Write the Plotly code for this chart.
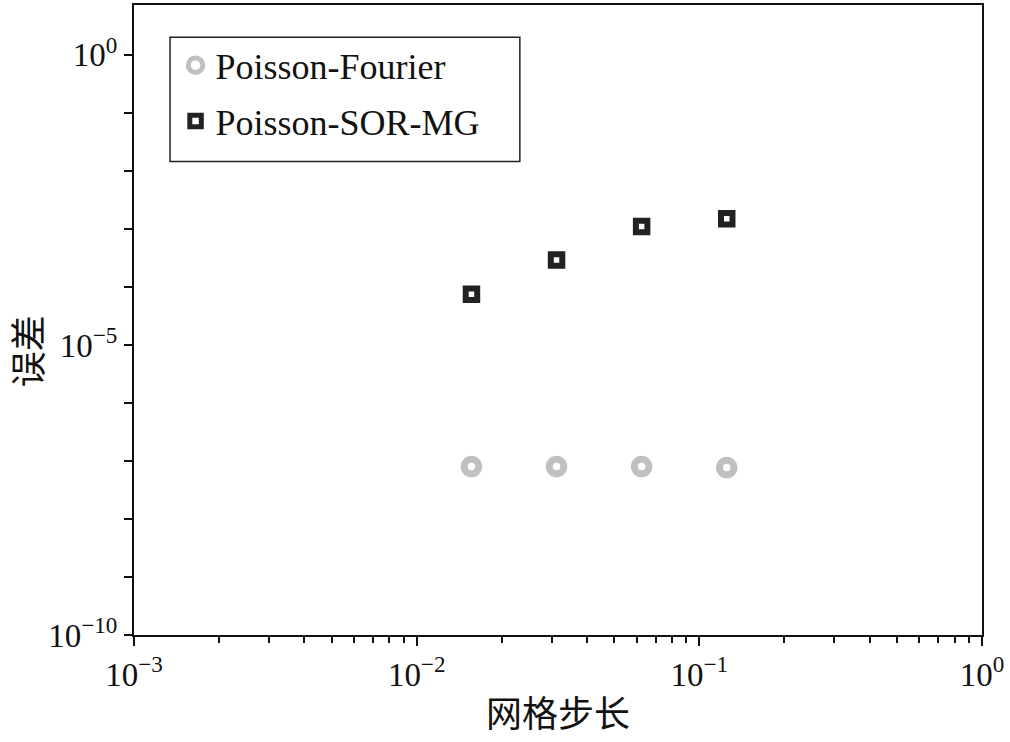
import plotly.graph_objects as go

h = [1/64, 1/32, 1/16, 1/8]
err_fourier = [8.0e-8, 8.0e-8, 8.0e-8, 7.7e-8]
err_sormg = [7.5e-5, 2.9e-4, 1.1e-3, 1.5e-3]
names = ["Poisson-Fourier", "Poisson-SOR-MG"]
x_title = "网格步长"
y_title = "误差"

fig = go.Figure()
fig.add_trace(go.Scatter(
    x=h, y=err_fourier, mode="markers", name=names[0], legendgroup="a",
    marker=dict(symbol="circle-open", size=14.5, color="#c0c0c0",
                line=dict(width=7, color="#c0c0c0")),
))
fig.add_trace(go.Scatter(
    x=h, y=err_sormg, mode="markers", name=names[1], legendgroup="b",
    marker=dict(symbol="square-open", size=11.5, color="#222222",
                line=dict(width=6, color="#222222")),
))

x_major = [10**e for e in range(-3, 1)]
x_minor = [m * 10**e for e in range(-3, 0) for m in range(2, 10)]
x_text = ["10<sup>−%d</sup>" % (-e) if e < 0 else "10<sup>0</sup>" for e in range(-3, 1)]
y_major = [1e-10, 1e-5, 1e0]
y_text = ["10<sup>−10</sup>", "10<sup>−5</sup>", "10<sup>0</sup>"]
y_minor = [10**e for e in range(-10, 1) if e % 5 != 0]

serif = "Liberation Serif, Times New Roman, serif"
cjk = "Noto Sans CJK SC"

fig.update_layout(
    width=1010, height=742,
    margin=dict(l=134, r=28, t=3, b=107),
    paper_bgcolor="white", plot_bgcolor="white",
    showlegend=True,
    legend=dict(
        x=0.049, y=0.952, xanchor="left", yanchor="top",
        borderwidth=0, bgcolor="rgba(0,0,0,0)",
        font=dict(family=serif, size=36, color="#111111"),
        itemsizing="trace", tracegroupgap=6,
    ),
    shapes=[dict(
        type="rect", xref="paper", yref="paper",
        x0=0.0425, x1=0.455, y0=0.7516, y1=0.949,
        line=dict(color="#222222", width=1.5), fillcolor="rgba(0,0,0,0)",
        layer="below",
    )],
    xaxis=dict(
        type="log", range=[-3, 0],
        tickmode="array", tickvals=x_major, ticktext=x_text,
        ticks="outside", ticklen=9, tickwidth=2, tickcolor="#111111",
        minor=dict(tickmode="array", tickvals=x_minor, ticks="outside",
                   ticklen=6, tickwidth=1.5, tickcolor="#111111"),
        showline=True, linewidth=2, linecolor="#111111", mirror=True,
        showgrid=False, zeroline=False,
        tickfont=dict(family=serif, size=33, color="#111111"),
        title=dict(text=x_title, font=dict(family=cjk, size=36, color="#111111"), standoff=10),
    ),
    yaxis=dict(
        type="log", range=[-10, 0.86],
        tickmode="array", tickvals=y_major, ticktext=y_text,
        ticks="outside", ticklen=8, tickwidth=2, tickcolor="#111111",
        minor=dict(tickmode="array", tickvals=y_minor, ticks="outside",
                   ticklen=8, tickwidth=2, tickcolor="#111111"),
        showline=True, linewidth=2, linecolor="#111111", mirror=True,
        showgrid=False, zeroline=False,
        tickfont=dict(family=serif, size=33, color="#111111"),
    ),
    annotations=[dict(
        text=y_title, textangle=-90, showarrow=False,
        xref="paper", yref="paper", x=-0.128, y=0.451,
        xanchor="center", yanchor="middle",
        font=dict(family=cjk, size=36, color="#111111"),
    )],
)

fig.write_html("out.html")
